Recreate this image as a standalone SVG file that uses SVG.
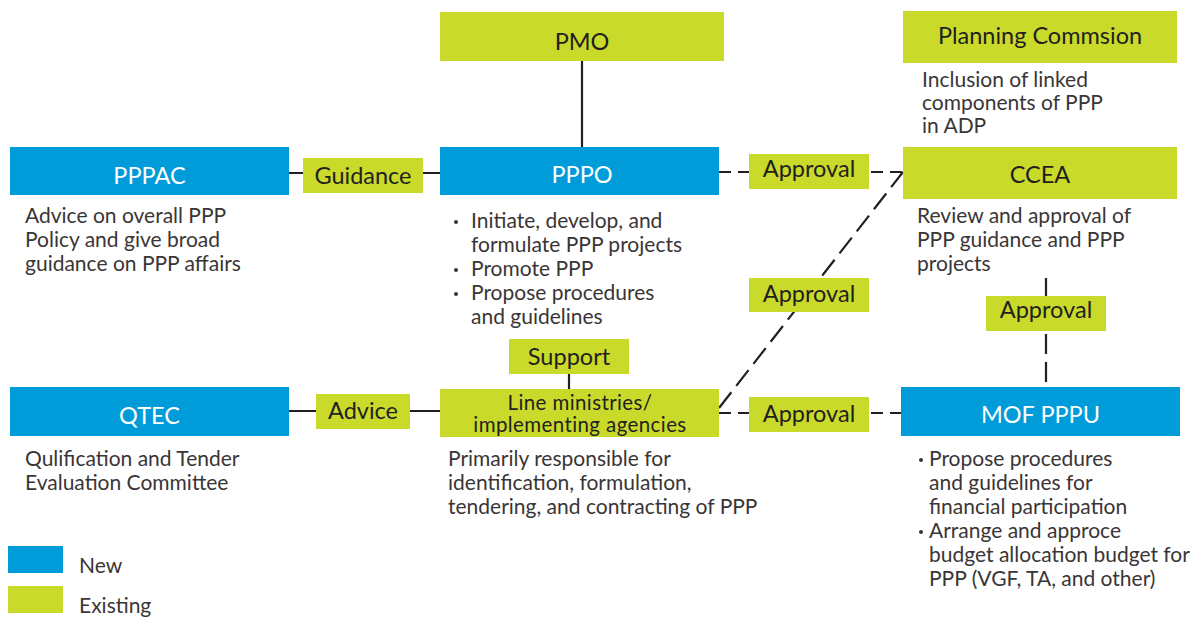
<svg xmlns="http://www.w3.org/2000/svg" width="1201" height="617" viewBox="0 0 1201 617">
<style>
.new{fill:#009bd9}
.ex{fill:#c9da2a}
.tw{font-family:Lato,"Liberation Sans",sans-serif;font-size:23.5px;fill:#ffffff;text-anchor:middle}
.td{font-family:Lato,"Liberation Sans",sans-serif;font-size:23.5px;fill:#231f20;text-anchor:middle}
.lb{font-family:Lato,"Liberation Sans",sans-serif;font-size:23.5px;fill:#231f20;text-anchor:middle}
.desc{font-family:Lato,"Liberation Sans",sans-serif;font-size:21px;fill:#3a3536}
.bul{fill:#3a3536}
.solid{stroke:#231f20;stroke-width:2.2;fill:none}
.dash{stroke:#231f20;stroke-width:2.2;fill:none;stroke-dasharray:12 7}
.dashl{stroke:#231f20;stroke-width:2.2;fill:none;stroke-dasharray:20 8}
</style>
<rect width="1201" height="617" fill="#ffffff"/>
<g id="connectors">
<line class="solid" x1="289" y1="173" x2="440" y2="173"/>
<line class="solid" x1="582" y1="61" x2="582" y2="147"/>
<line class="dash" x1="719" y1="172" x2="903" y2="172"/>
<line class="solid" x1="289" y1="411" x2="440" y2="411"/>
<line class="solid" x1="569" y1="374" x2="569" y2="389"/>
<line class="dash" x1="719" y1="413" x2="901" y2="413"/>
<line class="dashl" x1="719" y1="408" x2="903" y2="172"/>
<line class="dashl" x1="1046" y1="278" x2="1046" y2="387"/>
</g>
<g id="pmo">
<rect class="ex" x="440" y="12" width="284" height="49"/>
<text class="td" x="582" y="50">PMO</text>
</g>
<g id="planning">
<rect class="ex" x="903" y="11" width="274" height="52"/>
<text class="td" x="1040" y="44">Planning Commsion</text>
<text class="desc" x="922" y="87">Inclusion of linked</text>
<text class="desc" x="922" y="110">components of PPP</text>
<text class="desc" x="922" y="133">in ADP</text>
</g>
<g id="pppac">
<rect class="new" x="10" y="147" width="279" height="48"/>
<text class="tw" x="149.5" y="184">PPPAC</text>
<text class="desc" x="25" y="223">Advice on overall PPP</text>
<text class="desc" x="25" y="247">Policy and give broad</text>
<text class="desc" x="25" y="271">guidance on PPP affairs</text>
</g>
<g id="guidance">
<rect class="ex" x="303" y="158" width="120" height="35"/>
<text class="lb" x="363" y="184">Guidance</text>
</g>
<g id="pppo">
<rect class="new" x="440" y="147" width="279" height="48"/>
<text class="tw" x="582" y="183">PPPO</text>
<circle class="bul" cx="456" cy="222" r="2"/>
<circle class="bul" cx="456" cy="270" r="2"/>
<circle class="bul" cx="456" cy="294" r="2"/>
<g class="desc">
<text x="471" y="228">Initiate, develop, and</text>
<text x="471" y="252">formulate PPP projects</text>
<text x="471" y="276">Promote PPP</text>
<text x="471" y="300">Propose procedures</text>
<text x="471" y="324">and guidelines</text>
</g>
</g>
<g id="approval-top">
<rect class="ex" x="749" y="154" width="120" height="35"/>
<text class="lb" x="809" y="177">Approval</text>
</g>
<g id="ccea">
<rect class="ex" x="903" y="147" width="274" height="52"/>
<text class="td" x="1040" y="183">CCEA</text>
<text class="desc" x="917" y="223">Review and approval of</text>
<text class="desc" x="917" y="247">PPP guidance and PPP</text>
<text class="desc" x="917" y="271">projects</text>
</g>
<g id="approval-mid">
<rect class="ex" x="749" y="278" width="120" height="34"/>
<text class="lb" x="809" y="302">Approval</text>
</g>
<g id="approval-right">
<rect class="ex" x="986" y="296" width="120" height="35"/>
<text class="lb" x="1046" y="318">Approval</text>
</g>
<g id="support">
<rect class="ex" x="509" y="339" width="120" height="35"/>
<text class="lb" x="569" y="365">Support</text>
</g>
<g id="qtec">
<rect class="new" x="10" y="387" width="279" height="49"/>
<text class="tw" x="149.5" y="424">QTEC</text>
<text class="desc" x="25" y="466">Qulification and Tender</text>
<text class="desc" x="25" y="490">Evaluation Committee</text>
</g>
<g id="advice">
<rect class="ex" x="316" y="394" width="94" height="35"/>
<text class="lb" x="363" y="419">Advice</text>
</g>
<g id="line-ministries">
<rect class="ex" x="440" y="389" width="279" height="48"/>
<text class="td" x="580" y="410" style="font-size:20.5px;letter-spacing:0.4px">Line ministries/</text>
<text class="td" x="580" y="432" style="font-size:20.5px;letter-spacing:0.4px">implementing agencies</text>
<text class="desc" x="448" y="466">Primarily responsible for</text>
<text class="desc" x="448" y="490">identification, formulation,</text>
<text class="desc" x="448" y="514">tendering, and contracting of PPP</text>
</g>
<g id="approval-bottom">
<rect class="ex" x="749" y="397" width="120" height="35"/>
<text class="lb" x="809" y="422">Approval</text>
</g>
<g id="mof-pppu">
<rect class="new" x="901" y="387" width="279" height="49"/>
<text class="tw" x="1040.5" y="423">MOF PPPU</text>
<circle class="bul" cx="921" cy="460" r="2"/>
<circle class="bul" cx="921" cy="532" r="2"/>
<g class="desc">
<text x="929" y="466">Propose procedures</text>
<text x="929" y="490">and guidelines for</text>
<text x="929" y="514">financial participation</text>
<text x="929" y="538">Arrange and approce</text>
<text x="929" y="562">budget allocation budget for</text>
<text x="929" y="586">PPP (VGF, TA, and other)</text>
</g>
</g>
<g id="legend">
<rect class="new" x="8" y="546" width="55" height="27"/>
<text class="desc" x="79" y="573">New</text>
<rect class="ex" x="8" y="586" width="55" height="27"/>
<text class="desc" x="79" y="613">Existing</text>
</g>
</svg>
